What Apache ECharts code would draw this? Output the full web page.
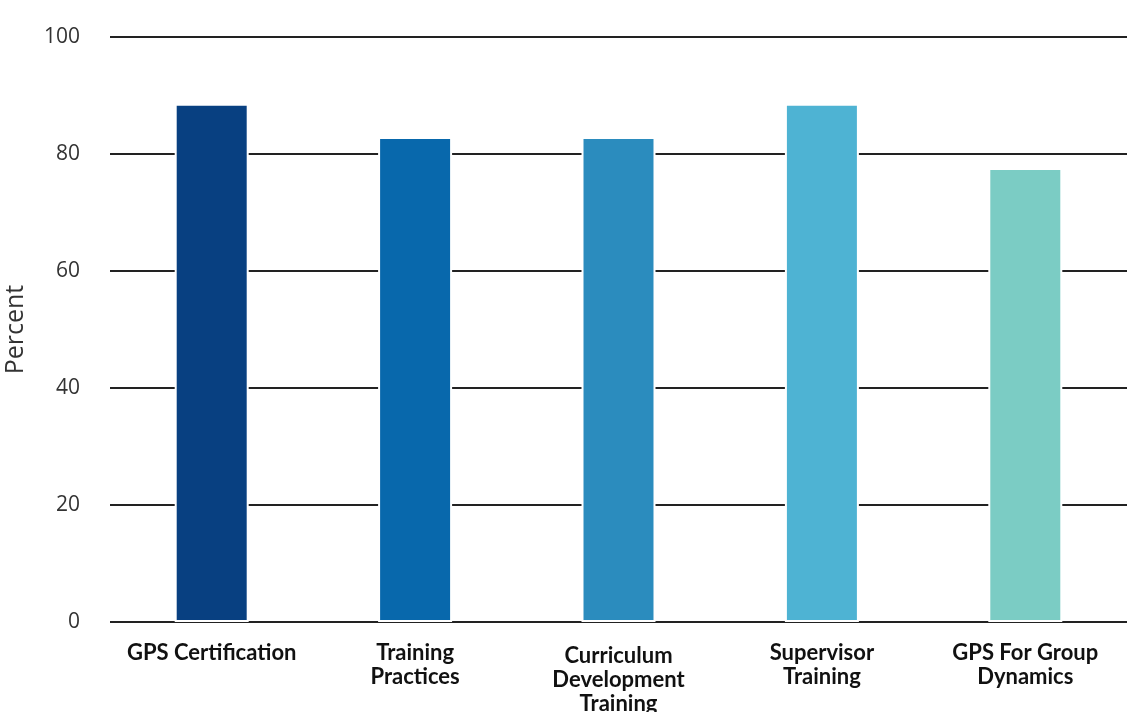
<!DOCTYPE html>
<html>
<head>
<meta charset="utf-8">
<style>
  html, body { margin: 0; padding: 0; background: #ffffff; }
  #chart { width: 1130px; height: 712px; }
</style>
<script src="https://cdn.jsdelivr.net/npm/echarts@6/dist/echarts.min.js"></script>
</head>
<body>
<div id="chart"></div>
<script>
const categories = [
  "GPS Certification",
  "Training\nPractices",
  "Curriculum\nDevelopment\nTraining",
  "Supervisor\nTraining",
  "GPS For Group\nDynamics"
];
const percentValues = [88.6, 82.9, 82.9, 88.6, 77.6];
const barColors = ["#084081", "#0868ac", "#2b8cbe", "#4eb3d3", "#7bccc4"];
const yTicks = { min: 0, max: 100, interval: 20 };
const yAxisTitle = "Percent";

const chart = echarts.init(document.getElementById('chart'), null, { renderer: 'canvas' });
chart.setOption({
  animation: false,
  backgroundColor: '#ffffff',
  grid: { left: 110, right: 3, top: 37, bottom: 90, containLabel: false, outerBoundsMode: 'none' },
  xAxis: {
    type: 'category',
    data: categories.map((c, i) => i === 2 ? { value: c, textStyle: { padding: [3, 0, 0, 0] } } : c),
    axisTick: { show: false },
    axisLine: { show: false },
    axisLabel: {
      interval: 0,
      margin: 19,
      color: '#111111',
      fontFamily: 'Lato, "Open Sans", sans-serif',
      fontWeight: 'bold',
      fontSize: 22,
      lineHeight: 24,
      verticalAlign: 'top'
    }
  },
  yAxis: {
    type: 'value',
    min: yTicks.min,
    max: yTicks.max,
    interval: yTicks.interval,
    name: yAxisTitle,
    nameLocation: 'middle',
    nameGap: 82,
    nameTextStyle: {
      color: '#333333',
      fontSize: 25,
      fontFamily: '"Open Sans", "Noto Sans", sans-serif'
    },
    axisLine: { show: false },
    axisTick: { show: false },
    axisLabel: {
      margin: 30,
      color: '#333333',
      fontSize: 21,
      fontFamily: '"Open Sans", "Noto Sans", sans-serif'
    },
    splitLine: { show: true, lineStyle: { color: '#222222', width: 2 } }
  },
  series: [{
    type: 'bar',
    data: percentValues.map((v, i) => ({ value: v, itemStyle: { color: barColors[i] } })),
    barWidth: 74,
    itemStyle: { borderColor: '#ffffff', borderWidth: 2 }
  }]
});
</script>
</body>
</html>
